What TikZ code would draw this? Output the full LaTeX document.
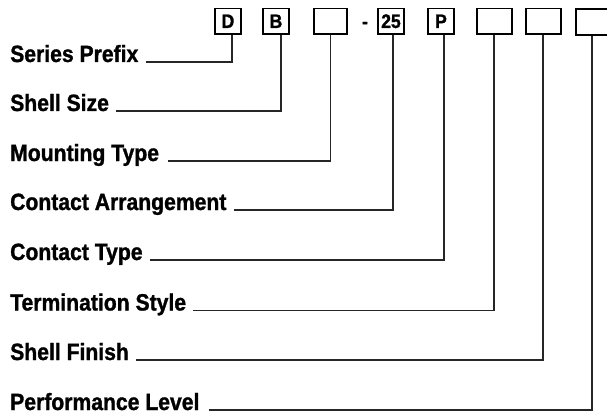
\documentclass[tikz,border=0pt]{standalone}
\usepackage{fontspec}
\setmainfont{Liberation Sans}[FakeStretch=0.9,BoldFeatures={FakeBold=1.2}]
\begin{document}
\begin{tikzpicture}[x=1pt,y=-1pt,
  lbl/.style={anchor=base west,inner sep=0pt,font=\fontsize{23.5}{26}\selectfont\bfseries},
  codebox/.style={draw,line width=1.7pt,inner sep=0pt,minimum height=25.5pt,font=\fontsize{19.5}{22}\selectfont\bfseries},
  leader/.style={line width=1.3pt,draw=black!85}]
\useasboundingbox (0,0) rectangle (607,414);
% code boxes
\node[codebox,minimum width=26pt] (bD) at (228,21.25) {D};
\node[codebox,minimum width=26pt] (bB) at (276,21.25) {B};
\node[codebox,minimum width=33pt] (bM) at (330.5,21.25) {};
\node[inner sep=0pt,font=\fontsize{19.5}{22}\selectfont\bfseries] (dash) at (365,25) {-};
\node[codebox,minimum width=26pt] (bA) at (391,21.25) {25};
\node[codebox,minimum width=26pt] (bP) at (441,21.25) {P};
\node[codebox,minimum width=35pt] (bT) at (494.5,21.25) {};
\node[codebox,minimum width=35pt] (bF) at (543.5,21.25) {};
\node[codebox,minimum width=35pt] (bL) at (593.5,22) {};
% labels
\node[lbl] (l1) at (10,62) {Series Prefix};
\node[lbl] (l2) at (10,111) {Shell Size};
\node[lbl] (l3) at (10,161) {Mounting Type};
\node[lbl] (l4) at (10,210) {Contact Arrangement};
\node[lbl] (l5) at (10,260) {Contact Type};
\node[lbl] (l6) at (10,310.5) {Termination Style};
\node[lbl] (l7) at (10,360) {Shell Finish};
\node[lbl] (l8) at (10,410) {Performance Level};
% leaders
\draw[leader] ([xshift=7pt]l1.base east) -| ([xshift=4pt]bD.south);
\draw[leader] ([xshift=7pt]l2.base east) -| ([xshift=5pt]bB.south);
\draw[leader] ([xshift=9pt]l3.base east) -| ([xshift=0pt]bM.south);
\draw[leader] ([xshift=7pt]l4.base east) -| ([xshift=2pt]bA.south);
\draw[leader] ([xshift=7pt]l5.base east) -| ([xshift=3pt]bP.south);
\draw[leader] ([xshift=7pt]l6.base east) -| ([xshift=-0.5pt]bT.south);
\draw[leader] ([xshift=7pt]l7.base east) -| ([xshift=-0.5pt]bF.south);
\draw[leader] ([xshift=9pt]l8.base east) -| ([xshift=-1.5pt]bL.south);
\end{tikzpicture}
\end{document}
